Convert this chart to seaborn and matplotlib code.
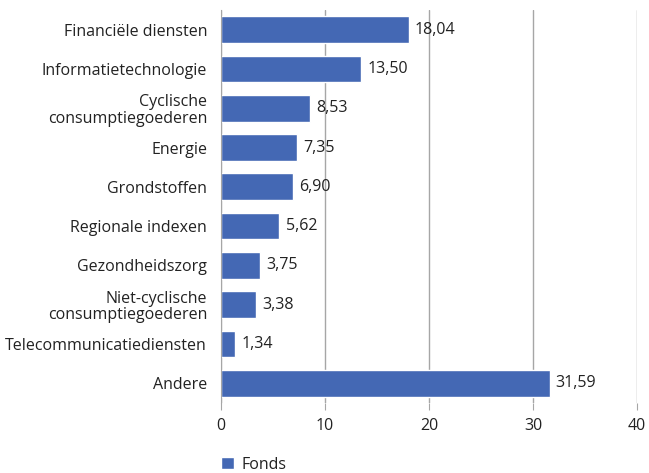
import matplotlib
matplotlib.use("Agg")
import matplotlib.pyplot as plt
import seaborn as sns
import pandas as pd

categories = ["Financiële diensten", "Informatietechnologie", "Cyclische\nconsumptiegoederen",
              "Energie", "Grondstoffen", "Regionale indexen", "Gezondheidszorg",
              "Niet-cyclische\nconsumptiegoederen", "Telecommunicatiediensten", "Andere"]
values = [18.04, 13.50, 8.53, 7.35, 6.90, 5.62, 3.75, 3.38, 1.34, 31.59]
xticks = [0, 10, 20, 30, 40]

sns.set_style("white")
plt.rcParams['font.family'] = ['Open Sans', 'DejaVu Sans']

df = pd.DataFrame({"cat": categories, "val": values})

fig = plt.figure(figsize=(6.49, 4.73), dpi=100)
ax = fig.add_axes([0.3405, 0.148, 0.641, 0.831])
sns.barplot(data=df, x="val", y="cat", color="#4468B4", width=0.68, saturation=1,
            label="Fonds", ax=ax)

for i, v in enumerate(values):
    ax.text(v + 0.6, i, f"{v:.2f}".replace(".", ","), va="center", ha="left",
            fontsize=11.5, color="#222222")

ax.set_xlim(0, 40)
ax.set_xticks(xticks)
ax.set_xticklabels([str(t) for t in xticks])
ax.grid(axis="x", color="#a6a6a6", linewidth=1)
ax.set_axisbelow(True)
for s in ["top", "right", "bottom"]:
    ax.spines[s].set_visible(False)
ax.spines["left"].set_color("#a6a6a6")
ax.tick_params(axis="x", bottom=True, direction="out", length=5, color="#a6a6a6",
               labelsize=11.5, labelcolor="#222222", pad=6)
ax.tick_params(axis="y", left=False, length=0, labelsize=11.5, labelcolor="#222222", pad=10)
for lbl in ax.get_yticklabels():
    lbl.set_linespacing(1.05)
ax.set_xlabel("")
ax.set_ylabel("")

ax.legend(loc="upper left", bbox_to_anchor=(-0.035, -0.1), frameon=False,
          fontsize=11.5, handlelength=0.8, handleheight=0.8, handletextpad=0.5,
          labelcolor="#222222")

fig.savefig("out.png", dpi=100)
